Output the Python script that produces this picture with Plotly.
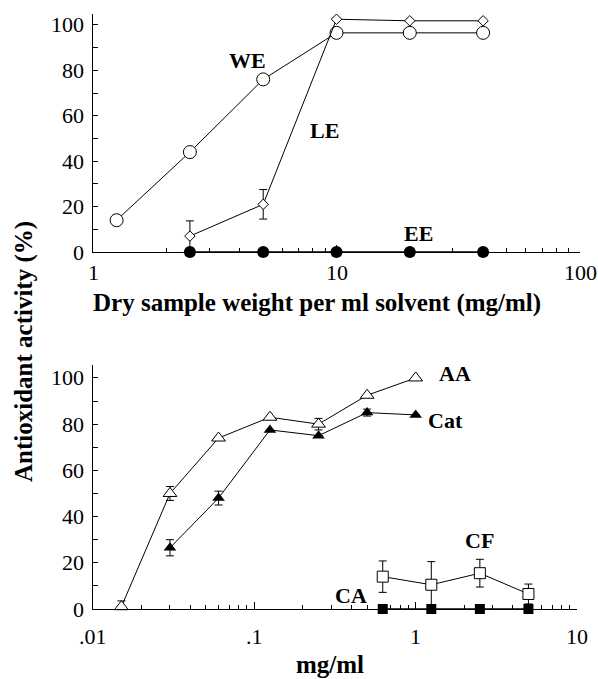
import math
import plotly.graph_objects as go

W, H = 598, 679

# ---- Top panel data ----
we_x = [1.25, 2.5, 5, 10, 20, 40]
we_y = [14, 44, 76, 96.5, 96.5, 96.5]
we_err = [0, 0, 2, 0, 0, 0]

le_x = [2.5, 5, 10, 20, 40]
le_y = [7, 21, 102.5, 101.8, 101.8]
le_err = [6.7, 6.5, 0, 0, 0]

ee_x = [2.5, 5, 10, 20, 40]
ee_y = [0, 0, 0, 0, 0]

top_ticks = [1, 10, 100]
top_ticktext = ["1", "10", "100"]

# ---- Bottom panel data ----
aa_x = [0.015, 0.03, 0.06, 0.125, 0.25, 0.5, 1]
aa_y = [1, 50, 74, 83, 80, 92.5, 100]
aa_err = [2.5, 3, 0, 0, 2.5, 0, 0]

cat_x = [0.03, 0.06, 0.125, 0.25, 0.5, 1]
cat_y = [26.5, 48, 77.5, 75, 85, 84]
cat_err = [3.5, 3, 0, 0, 1.5, 0]

cf_x = [0.625, 1.25, 2.5, 5]
cf_y = [14, 10.5, 15.5, 6.5]
cf_err = [6.8, 10, 6, 4.3]

ca_x = [0.625, 1.25, 2.5, 5]
ca_y = [0, 0, 0, 0]

bot_ticks = [0.01, 0.1, 1, 10]
bot_ticktext = [".01", ".1", "1", "10"]

y_ticks = [0, 20, 40, 60, 80, 100]
y_minor = [10, 30, 50, 70, 90]

FONT = "Liberation Serif"
BLACK = "black"


def px(x):
    return x / W


def py(y):
    return 1 - y / H


def err(vals):
    return dict(type="data", array=vals, visible=True, color=BLACK, thickness=1, width=4)


fig = go.Figure()

line = dict(color=BLACK, width=1)

fig.add_trace(go.Scatter(x=we_x, y=we_y, mode="lines+markers", line=line, error_y=err(we_err),
                         marker=dict(symbol="circle", size=13, color="white", line=dict(color=BLACK, width=1)),
                         cliponaxis=False, xaxis="x", yaxis="y"))
fig.add_trace(go.Scatter(x=le_x, y=le_y, mode="lines+markers", line=line, error_y=err(le_err),
                         marker=dict(symbol="diamond", size=8, color="white", line=dict(color=BLACK, width=1)),
                         cliponaxis=False, xaxis="x", yaxis="y"))
fig.add_trace(go.Scatter(x=ee_x, y=ee_y, mode="lines+markers", line=dict(color=BLACK, width=1.5),
                         marker=dict(symbol="circle", size=12, color=BLACK),
                         cliponaxis=False, xaxis="x", yaxis="y"))

fig.add_trace(go.Scatter(x=aa_x, y=aa_y, mode="lines+markers", line=line, error_y=err(aa_err),
                         marker=dict(symbol="triangle-up", size=12, color="white", line=dict(color=BLACK, width=1)),
                         cliponaxis=False, xaxis="x2", yaxis="y2"))
fig.add_trace(go.Scatter(x=cat_x, y=cat_y, mode="lines+markers", line=line, error_y=err(cat_err),
                         marker=dict(symbol="triangle-up", size=11, color=BLACK),
                         cliponaxis=False, xaxis="x2", yaxis="y2"))
fig.add_trace(go.Scatter(x=cf_x, y=cf_y, mode="lines+markers", line=line, error_y=err(cf_err),
                         marker=dict(symbol="square", size=11, color="white", line=dict(color=BLACK, width=1)),
                         cliponaxis=False, xaxis="x2", yaxis="y2"))
fig.add_trace(go.Scatter(x=ca_x, y=ca_y, mode="lines+markers", line=dict(color=BLACK, width=1.5),
                         marker=dict(symbol="square", size=10, color=BLACK),
                         cliponaxis=False, xaxis="x2", yaxis="y2"))


def xaxis_cfg(domain, rng, vals, minor_vals, anchor):
    return dict(type="log", domain=domain, range=rng, anchor=anchor,
                showline=True, linecolor=BLACK, linewidth=1.3, ticks="inside",
                ticklen=7, tickwidth=1, tickcolor=BLACK, showgrid=False, zeroline=False,
                tickmode="array", tickvals=vals, showticklabels=False,
                minor=dict(tickvals=minor_vals, ticks="inside", ticklen=4,
                           tickcolor=BLACK, tickwidth=1, showgrid=False))


def yaxis_cfg(domain, top, anchor):
    return dict(domain=domain, range=[0, top], anchor=anchor,
                showline=True, linecolor=BLACK, linewidth=1.3, ticks="inside",
                ticklen=5, tickwidth=1, tickcolor=BLACK, showgrid=False, zeroline=False,
                tickmode="array", tickvals=y_ticks, showticklabels=False,
                minor=dict(tickvals=y_minor, ticks="inside", ticklen=5,
                           tickcolor=BLACK, tickwidth=1, showgrid=False))


top_minor = [v * m for v in [1, 10] for m in range(2, 10)]
bot_minor = [v * m for v in [0.01, 0.1, 1] for m in range(2, 10)]

fig.update_layout(
    width=W, height=H,
    margin=dict(l=0, r=0, t=0, b=0),
    paper_bgcolor="white", plot_bgcolor="white",
    showlegend=False,
    font=dict(family=FONT, size=22, color=BLACK),
    xaxis=xaxis_cfg([px(93), px(580)], [0, 2], top_ticks, top_minor, "y"),
    yaxis=yaxis_cfg([py(252), py(14)], 104.8, "x"),
    xaxis2=xaxis_cfg([px(93), px(577)], [-2, 1], bot_ticks, bot_minor, "y2"),
    yaxis2=yaxis_cfg([py(609), py(365)], 105.6, "x2"),
)

tickfont = dict(family=FONT, size=22, color=BLACK)

# tick labels placed on the library's own axis scales
for yref in ["y", "y2"]:
    for v in y_ticks:
        fig.add_annotation(text=str(v), xref="paper", x=px(86), yref=yref, y=v,
                           xanchor="right", yanchor="middle", showarrow=False, font=tickfont)

for xref, vals, texts, ypix in [("x", top_ticks, top_ticktext, 272),
                                ("x2", bot_ticks, bot_ticktext, 636)]:
    for v, t in zip(vals, texts):
        fig.add_annotation(text=t, xref=xref, x=math.log10(v), yref="paper", y=py(ypix),
                           xanchor="center", yanchor="middle", showarrow=False, font=tickfont)

lab = dict(family=FONT, size=22, color=BLACK)
title_font = dict(family=FONT, size=25, color=BLACK)


def note(text, x, y, font, angle=0):
    fig.add_annotation(text=text, x=px(x), y=py(y), xref="paper", yref="paper",
                       showarrow=False, font=font, textangle=angle,
                       xanchor="center", yanchor="middle")


note("<b>WE</b>", 247, 60, lab)
note("<b>LE</b>", 324, 130, lab)
note("<b>EE</b>", 418, 233, lab)
note("<b>AA</b>", 455, 373, lab)
note("<b>Cat</b>", 446, 420, lab)
note("<b>CF</b>", 479, 540, lab)
note("<b>CA</b>", 351, 595, lab)

note("<b>Dry sample weight per ml solvent (mg/ml)</b>", 317, 303, title_font)
note("<b>mg/ml</b>", 330, 664, title_font)
note("<b>Antioxidant activity (%)</b>", 24, 352, title_font, angle=-90)

fig.write_html("out.html", config={"displayModeBar": False},
               post_script="document.body.style.margin='0px';document.body.style.overflow='hidden';")
